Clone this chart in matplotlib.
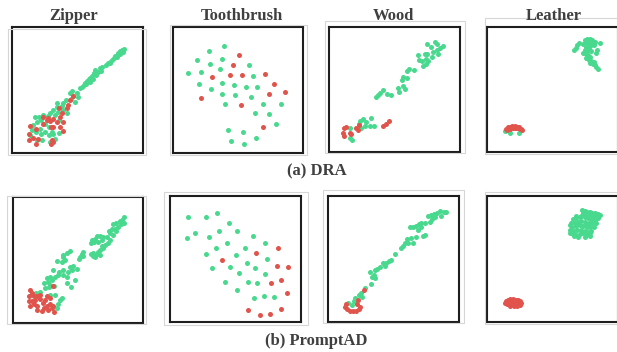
import numpy as np
import matplotlib
matplotlib.use("Agg")
import matplotlib.pyplot as plt
from matplotlib.patches import Rectangle

categories = ["Zipper", "Toothbrush", "Wood", "Leather"]
methods = ["(a) DRA", "(b) PromptAD"]

# t-SNE embeddings; y axis grows downward in these units
zipper_dra_normal = [(372,148),(365,152),(358,155),(368,158),(352,160),(360,163),(345,168),(350,172),(340,175),(335,180),
    (328,185),(322,190),(330,188),(318,195),(305,200),(298,205),(302,212),(292,215),(285,210),(280,220),(288,225),(275,228),
    (270,233),(265,238),(278,238),(260,242),(255,248),(268,245),(250,255),(245,262),(258,252),(240,265),(215,272),(230,280),
    (220,288),(232,292),(212,298),(225,305),(198,300),(188,308),(172,308),(185,318),(170,320),(160,330),(175,335),(190,330),
    (150,338),(165,345),(145,348),(130,345),(118,350),(105,350),(122,360),(110,365),(135,372),(100,375),(148,380),(120,385),
    (95,390),(108,395),(135,395),(155,395),(90,405),(148,405),(160,400),(122,402),(178,398),(125,420),(110,420),(150,425),
    (165,415),(200,340),(210,278),(178,360)]
zipper_dra_anomaly = [(218,288),(210,300),(205,315),(200,325),(178,325),(185,340),(180,350),(145,355),(160,358),(150,362),
    (172,365),(190,365),(128,350),(140,360),(90,378),(152,380),(160,380),(108,385),(88,400),(100,412),(115,415),(88,420),
    (155,420),(160,425),(152,430),(108,432),(180,380),(190,392),(130,370)]

toothbrush_dra_normal = [(192,138),(147,153),(110,180),(187,175),(150,190),(267,193),(180,207),(82,218),(122,215),(280,228),
    (186,247),(222,253),(115,252),(257,260),(292,260),(152,266),(185,280),(224,284),(272,291),(195,312),(308,310),(364,311),
    (286,338),(328,342),(350,372),(205,390),(248,395),(212,422),(288,414),(252,431)]
toothbrush_dra_anomaly = [(237,165),(220,195),(209,224),(245,225),(316,220),(156,231),(344,252),(375,276),(326,282),
    (121,292),(243,315),(310,380)]

wood_dra_normal = [(322,130),(345,126),(352,130),(332,140),(360,142),(368,138),(350,148),(340,156),(322,160),(315,160),
    (355,160),(295,165),(335,170),(318,175),(298,180),(305,182),(325,182),(310,198),(268,205),(283,210),(262,212),(318,192),
    (250,230),(262,234),(245,238),(235,262),(250,258),(255,266),(238,275),(190,270),(182,278),(175,285),(170,292),(202,282),
    (215,285),(155,355),(130,358),(122,362),(140,365),(118,372),(150,377),(162,377),(135,378),(125,385),(92,385),(90,415),(97,420)]
wood_dra_anomaly = [(208,362),(198,372),(190,378),(118,375),(80,380),(72,385),(110,385),(115,390),(70,400),(72,407),
    (90,398),(95,402)]

leather_dra_normal = [(345,118),(352,115),(360,116),(368,120),(375,125),(348,125),(340,130),(356,128),(365,130),(372,135),
    (390,127),(328,128),(322,135),(318,142),(313,150),(350,140),(358,145),(362,138),(345,148),(352,152),(365,152),(340,158),
    (348,160),(355,165),(360,170),(350,172),(358,178),(365,182),(362,188),(370,190),(375,195),(380,200),(385,205),(372,185),
    (383,150),(378,158),(105,393),(120,400),(148,398)]
leather_dra_anomaly = [(110,386),(115,382),(120,380),(128,379),(135,379),(142,380),(148,382),(154,386),(158,390),(112,390),
    (122,386),(130,385),(140,385),(150,388),(118,383),(145,383),(125,382),(135,383)]

zipper_pad_normal = [(372,110),(368,118),(360,122),(372,128),(350,128),(340,130),(365,132),(355,140),(345,145),(338,148),
    (328,152),(350,152),(332,160),(340,165),(320,170),(310,172),(300,168),(290,168),(285,178),(275,180),(272,188),(282,185),
    (295,185),(305,180),(330,180),(325,190),(315,195),(305,198),(300,210),(295,215),(290,222),(280,218),(272,222),(285,232),
    (278,228),(300,225),(308,205),(250,215),(245,222),(240,230),(236,238),(250,228),(210,212),(200,218),(190,225),(188,232),
    (195,240),(172,242),(185,245),(220,258),(210,262),(215,270),(230,268),(205,275),(190,270),(178,275),(160,270),(175,285),
    (190,285),(200,290),(165,290),(150,290),(140,295),(155,300),(145,305),(225,300),(200,310),(212,320),(150,315),(162,318),
    (135,325),(130,310),(148,322),(120,335),(108,340),(185,355),(180,362),(175,372),(172,385),(150,345),(95,345),(165,345)]
zipper_pad_anomaly = [(88,330),(95,340),(85,348),(100,350),(110,348),(118,358),(105,360),(95,365),(85,365),(100,372),
    (90,378),(110,378),(130,385),(140,348),(150,355),(135,362),(128,370),(150,372),(160,378),(145,390),(162,398),(110,390),
    (125,395),(158,318),(120,345),(140,380),(155,385)]

toothbrush_pad_normal = [(98,112),(152,112),(186,100),(222,130),(121,160),(192,153),(246,154),(95,174),(163,170),(295,168),
    (216,190),(184,204),(331,189),(270,204),(153,222),(242,224),(336,238),(276,249),(172,265),(224,262),(300,265),(253,279),
    (329,281),(210,306),(278,307),(306,310),(245,329),(296,354),(327,348),(356,351)]
toothbrush_pad_anomaly = [(370,204),(303,220),(200,240),(365,258),(399,261),(349,308),(377,300),(396,338),(278,391),
    (314,404),(346,401),(378,386)]

wood_pad_normal = [(395,96),(388,95),(375,92),(368,98),(358,102),(350,105),(340,108),(378,108),(362,112),(352,118),
    (345,125),(330,128),(320,128),(312,132),(305,138),(295,140),(285,142),(320,140),(310,150),(330,165),(325,168),(305,172),
    (290,175),(278,178),(272,188),(265,198),(258,205),(280,190),(295,188),(240,222),(230,240),(222,242),(215,248),(205,250),
    (210,258),(195,262),(188,268),(182,270),(165,275),(178,285),(172,290),(182,295),(168,312),(152,325),(140,338),(132,345),
    (122,355),(142,350),(118,362),(100,368),(112,374)]
wood_pad_anomaly = [(148,330),(130,360),(95,372),(92,380),(97,388),(105,392),(115,394),(125,393),(132,388),(135,380),(128,372)]

leather_pad_normal = [(338,90),(345,92),(352,95),(360,96),(368,98),(375,100),(385,102),(392,105),(380,110),(370,108),
    (358,105),(348,102),(340,100),(335,108),(345,112),(355,115),(365,118),(375,120),(385,115),(318,115),(310,118),(305,128),
    (315,128),(325,125),(335,122),(345,125),(358,128),(368,130),(378,128),(300,135),(308,140),(318,138),(330,135),(340,138),
    (352,140),(362,142),(372,140),(302,150),(312,152),(322,150),(335,150),(345,152),(355,155),(365,152),(300,160),(310,163),
    (320,165),(330,162),(340,160),(350,165),(360,168),(345,170),(325,170),(312,168),(320,108),(330,112),(348,135),(362,158)]
leather_pad_anomaly = [(108,362),(115,358),(122,356),(130,357),(138,358),(145,360),(152,363),(155,368),(150,373),(142,376),
    (132,377),(122,376),(112,372),(106,367),(118,365),(128,366),(138,367),(146,368),(125,372),(135,372),(115,368)]

panels = [
    (zipper_dra_normal, zipper_dra_anomaly, (36, 428, 458, 82)),
    (toothbrush_dra_normal, toothbrush_dra_anomaly, (38, 430, 458, 80)),
    (wood_dra_normal, wood_dra_anomaly, (28, 420, 456, 80)),
    (leather_dra_normal, leather_dra_anomaly, (52, 445, 456, 80)),
    (zipper_pad_normal, zipper_pad_anomaly, (38, 430, 430, 50)),
    (toothbrush_pad_normal, toothbrush_pad_anomaly, (45, 438, 426, 48)),
    (wood_pad_normal, wood_pad_anomaly, (40, 433, 426, 48)),
    (leather_pad_normal, leather_pad_anomaly, (52, 445, 425, 48)),
]

W, H = 617, 352
# axes boxes in pixels: x0, x1, y0(top), y1(bottom)
boxes = [(12,143,27,153),(173,303,27,153),(329,460,27,152),(487,618,27,152),
         (13,143,197,323),(170,301,196,322),(328,459,196,322),(487,618,196,322)]
grey_frames = [(8,146,29,155),(170,307,25,155),(325,465,21,153),(485,620,18,154),
               (7,146,196,324),(164,308,192,325),(323,464,190,323),(485,620,192,324)]

GREEN = "#48D98E"
RED = "#E0544C"

fig = plt.figure(figsize=(W/100, H/100), dpi=100)
fig.patch.set_facecolor("white")

for (gx0, gx1, gy0, gy1) in grey_frames:
    fig.patches.append(Rectangle((gx0/W, 1-gy1/H), (gx1-gx0)/W, (gy1-gy0)/H,
                                 transform=fig.transFigure, fill=False,
                                 edgecolor="#d6d6d6", lw=0.8, zorder=0))

for (normal, anomaly, lims), (x0, x1, y0, y1) in zip(panels, boxes):
    ax = fig.add_axes([x0/W, 1-y1/H, (x1-x0)/W, (y1-y0)/H])
    n = np.array(normal, dtype=float)
    a = np.array(anomaly, dtype=float)
    ax.scatter(n[:,0], n[:,1], s=13, c=GREEN, linewidths=0, zorder=2)
    ax.scatter(a[:,0], a[:,1], s=13, c=RED, linewidths=0, zorder=3)
    ax.set_xlim(lims[0], lims[1])
    ax.set_ylim(lims[2], lims[3])
    ax.set_xticks([]); ax.set_yticks([])
    for sp in ax.spines.values():
        sp.set_linewidth(1.5)
        sp.set_color("#1e1e1e")

title_font = dict(family=["Liberation Serif", "DejaVu Serif"], fontweight="bold",
                  fontsize=12, color="#404040", ha="center", va="center")
for cat, cx in zip(categories, [74, 242, 393, 554]):
    fig.text(cx/W, 1-16/H, cat, **title_font)
fig.text(317/W, 1-171/H, methods[0], **title_font)
fig.text(316/W, 1-341/H, methods[1], **title_font)

fig.savefig("out.png", dpi=100, facecolor="white")
